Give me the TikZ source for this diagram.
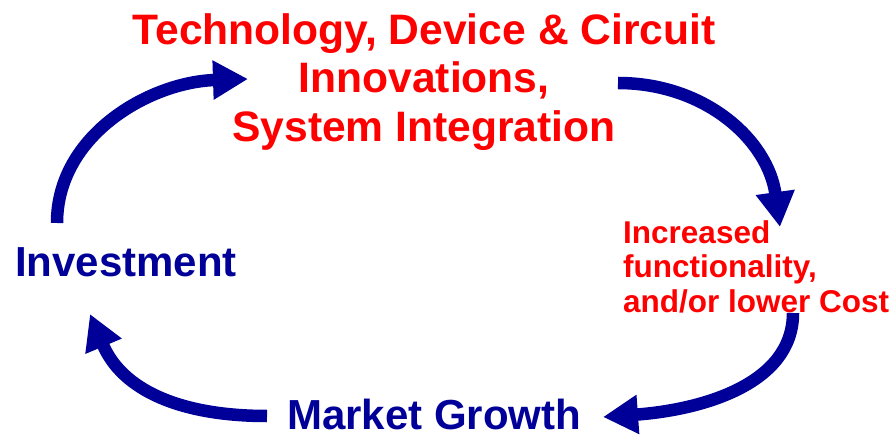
\documentclass[tikz,border=0pt]{standalone}
\usepackage{fontspec}
\setmainfont{Liberation Sans}
\usetikzlibrary{arrows.meta}
\definecolor{navy}{RGB}{0,0,153}
\definecolor{brightred}{RGB}{255,0,0}
\begin{document}
\begin{tikzpicture}[x=1pt,y=-1pt,
  cyc/.style={draw=navy,line width=12.5pt,-{Triangle[length=35pt,width=37pt]}},
  bigred/.style={text=brightred,font=\bfseries\fontsize{42.6}{48.5}\selectfont,inner sep=0pt},
  smallred/.style={text=brightred,font=\bfseries\fontsize{31.5}{34.5}\selectfont,inner sep=0pt},
  bigblue/.style={text=navy,font=\bfseries\fontsize{42}{48}\selectfont,inner sep=0pt}]
\useasboundingbox (0,0) rectangle (896,435);
\node[bigred,align=center,anchor=north] (tech) at (424,13) {Technology, Device \& Circuit\\Innovations,\\System Integration};
\node[smallred,align=left,anchor=north west] (func) at (623,220) {Increased\\functionality,\\and/or lower Cost};
\node[bigblue,anchor=base west] (inv) at (15,277) {Investment};
\node[bigblue,anchor=base west] (mkt) at (287,429) {Market Growth};
\coordinate (a1s) at (57,223);
\coordinate (a1e) at (248,79);
\coordinate (a2s) at (618,83);
\coordinate (a2e) at (780,227);
\coordinate (a3s) at (793,313);
\coordinate (a3e) at (603,417);
\coordinate (a4s) at (267,416);
\coordinate (a4e) at (90,314);
\draw[cyc] (a1s) .. controls (57,135) and (150,82) .. (a1e);
\draw[cyc] (a2s) .. controls (705,83) and (768,140) .. (a2e);
\draw[cyc] (a3s) .. controls (793,385) and (700,410) .. (a3e);
\draw[cyc] (a4s) .. controls (180,416) and (122,390) .. (a4e);
\end{tikzpicture}
\end{document}
